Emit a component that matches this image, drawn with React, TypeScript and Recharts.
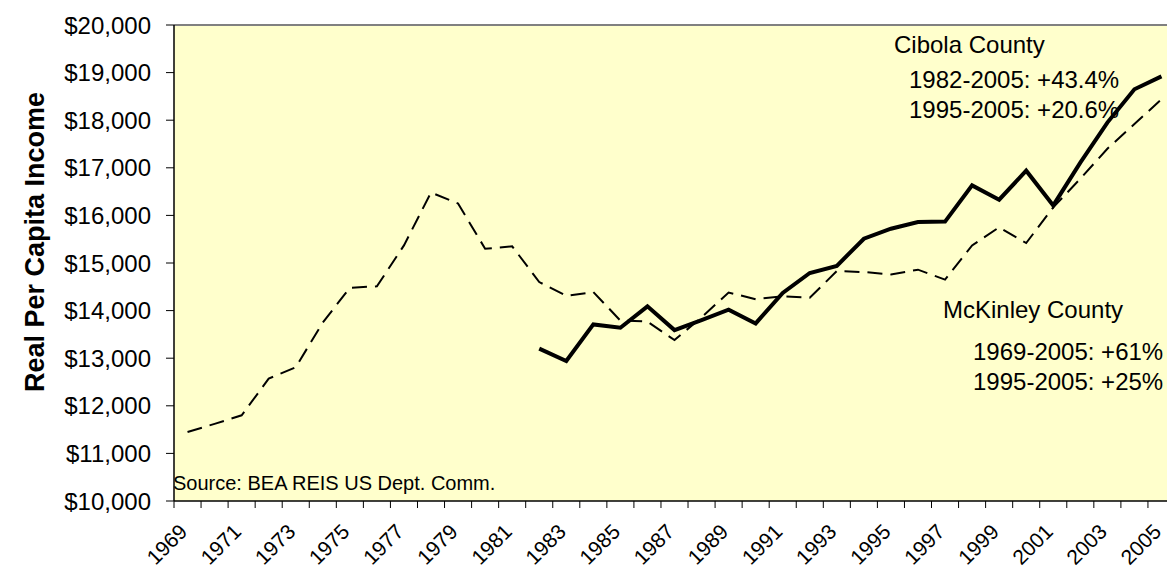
import { LineChart, Line, XAxis, YAxis, CartesianGrid, ReferenceLine, Customized } from 'recharts'

const years = [
  '1969', '1970', '1971', '1972', '1973', '1974', '1975', '1976', '1977', '1978',
  '1979', '1980', '1981', '1982', '1983', '1984', '1985', '1986', '1987', '1988',
  '1989', '1990', '1991', '1992', '1993', '1994', '1995', '1996', '1997', '1998',
  '1999', '2000', '2001', '2002', '2003', '2004', '2005',
]

// McKinley County, 1969-2005 (dashed)
const mckinley = [
  11450, 11620, 11800, 12570, 12810, 13750, 14480, 14510, 15370, 16480,
  16250, 15300, 15350, 14600, 14310, 14390, 13790, 13770, 13380, 13860,
  14380, 14240, 14300, 14270, 14830, 14810, 14760, 14860, 14650, 15370,
  15750, 15420, 16170, 16770, 17400, 17920, 18440,
]

// Cibola County, data only from 1982 (solid)
const cibola = [
  null, null, null, null, null, null, null, null, null, null,
  null, null, null, 13200, 12940, 13710, 13640, 14090, 13590, 13800,
  14020, 13730, 14370, 14790, 14940, 15510, 15720, 15860, 15870, 16630,
  16330, 16940, 16210, 17110, 17950, 18650, 18920,
]

const yTicks = [10000, 11000, 12000, 13000, 14000, 15000, 16000, 17000, 18000, 19000, 20000]

const cibolaNotes = ['Cibola County', '1982-2005: +43.4%', '1995-2005: +20.6%']
const mckinleyNotes = ['McKinley County', '1969-2005: +61%', '1995-2005: +25%']
const sourceNote = 'Source: BEA REIS US Dept. Comm.'

const data = years.map((year, i) => ({ year, mckinley: mckinley[i], cibola: cibola[i] }))

const FONT = 'Arial, "Liberation Sans", sans-serif'
const W = 1190
const H = 578
const MARGIN = { top: 25, right: 15, bottom: 0, left: 0 }
const Y_W = 174
const X_H = 77
const plotW = W - MARGIN.left - MARGIN.right - Y_W
const half = plotW / years.length / 2

const fmt = new Intl.NumberFormat('en-US')

function YearTick(props: any) {
  const { x, y, payload, index } = props
  const tx = x + 1
  const ty = y + 32
  return (
    <g>
      <line x1={x - half} x2={x - half} y1={y} y2={y + 7} stroke="#000" />
      {index % 2 === 0 && (
        <text
          x={tx}
          y={ty}
          textAnchor="end"
          fontSize={21}
          fontFamily={FONT}
          fill="#000"
          transform={`rotate(-45 ${tx} ${ty})`}
        >
          {payload.value}
        </text>
      )}
    </g>
  )
}

function Notes() {
  const t = { fontSize: 24, fontFamily: FONT, fill: '#000' }
  return (
    <g>
      <text x={894} y={53} {...t}>{cibolaNotes[0]}</text>
      <text x={909} y={88} {...t}>{cibolaNotes[1]}</text>
      <text x={909} y={118} {...t}>{cibolaNotes[2]}</text>
      <text x={943} y={318} {...t}>{mckinleyNotes[0]}</text>
      <text x={973} y={360} {...t}>{mckinleyNotes[1]}</text>
      <text x={973} y={390} {...t}>{mckinleyNotes[2]}</text>
      <text x={173} y={490} fontSize={20} fontFamily={FONT} fill="#000">{sourceNote}</text>
      <text
        x={35}
        y={242}
        textAnchor="middle"
        dominantBaseline="central"
        fontSize={27}
        fontWeight="bold"
        fontFamily={FONT}
        fill="#000"
        transform="rotate(-90 35 242)"
      >
        Real Per Capita Income
      </text>
    </g>
  )
}

export default function App() {
  return (
    <div style={{ position: 'fixed', left: 0, top: 0, width: 1167, height: 578, overflow: 'hidden', background: '#fff' }}>
      <LineChart width={W} height={H} data={data} margin={MARGIN} style={{ fontFamily: FONT }}>
        <CartesianGrid horizontal={false} vertical={false} fill="#FFFFCC" />
        <XAxis
          dataKey="year"
          type="category"
          interval={0}
          height={X_H}
          padding={{ left: half, right: half }}
          axisLine={{ stroke: '#000', strokeWidth: 1.5 }}
          tickLine={false}
          tickSize={0}
          tickMargin={0}
          tick={<YearTick />}
        />
        <YAxis
          type="number"
          domain={[10000, 20000]}
          ticks={yTicks}
          width={Y_W}
          interval={0}
          tickSize={8}
          tickMargin={15}
          axisLine={{ stroke: '#000', strokeWidth: 1.5 }}
          tickLine={{ stroke: '#000' }}
          tick={{ fontSize: 24, fill: '#000', fontFamily: FONT }}
          tickFormatter={(v: number) => `$${fmt.format(v)}`}
        />
        <ReferenceLine y={20000} stroke="#808080" strokeWidth={2} />
        <Customized component={Notes} />
        <Line
          dataKey="mckinley"
          stroke="#000"
          strokeWidth={2}
          strokeDasharray="15 8"
          dot={false}
          isAnimationActive={false}
        />
        <Line
          dataKey="cibola"
          stroke="#000"
          strokeWidth={4}
          dot={false}
          connectNulls={false}
          isAnimationActive={false}
        />
      </LineChart>
    </div>
  )
}
